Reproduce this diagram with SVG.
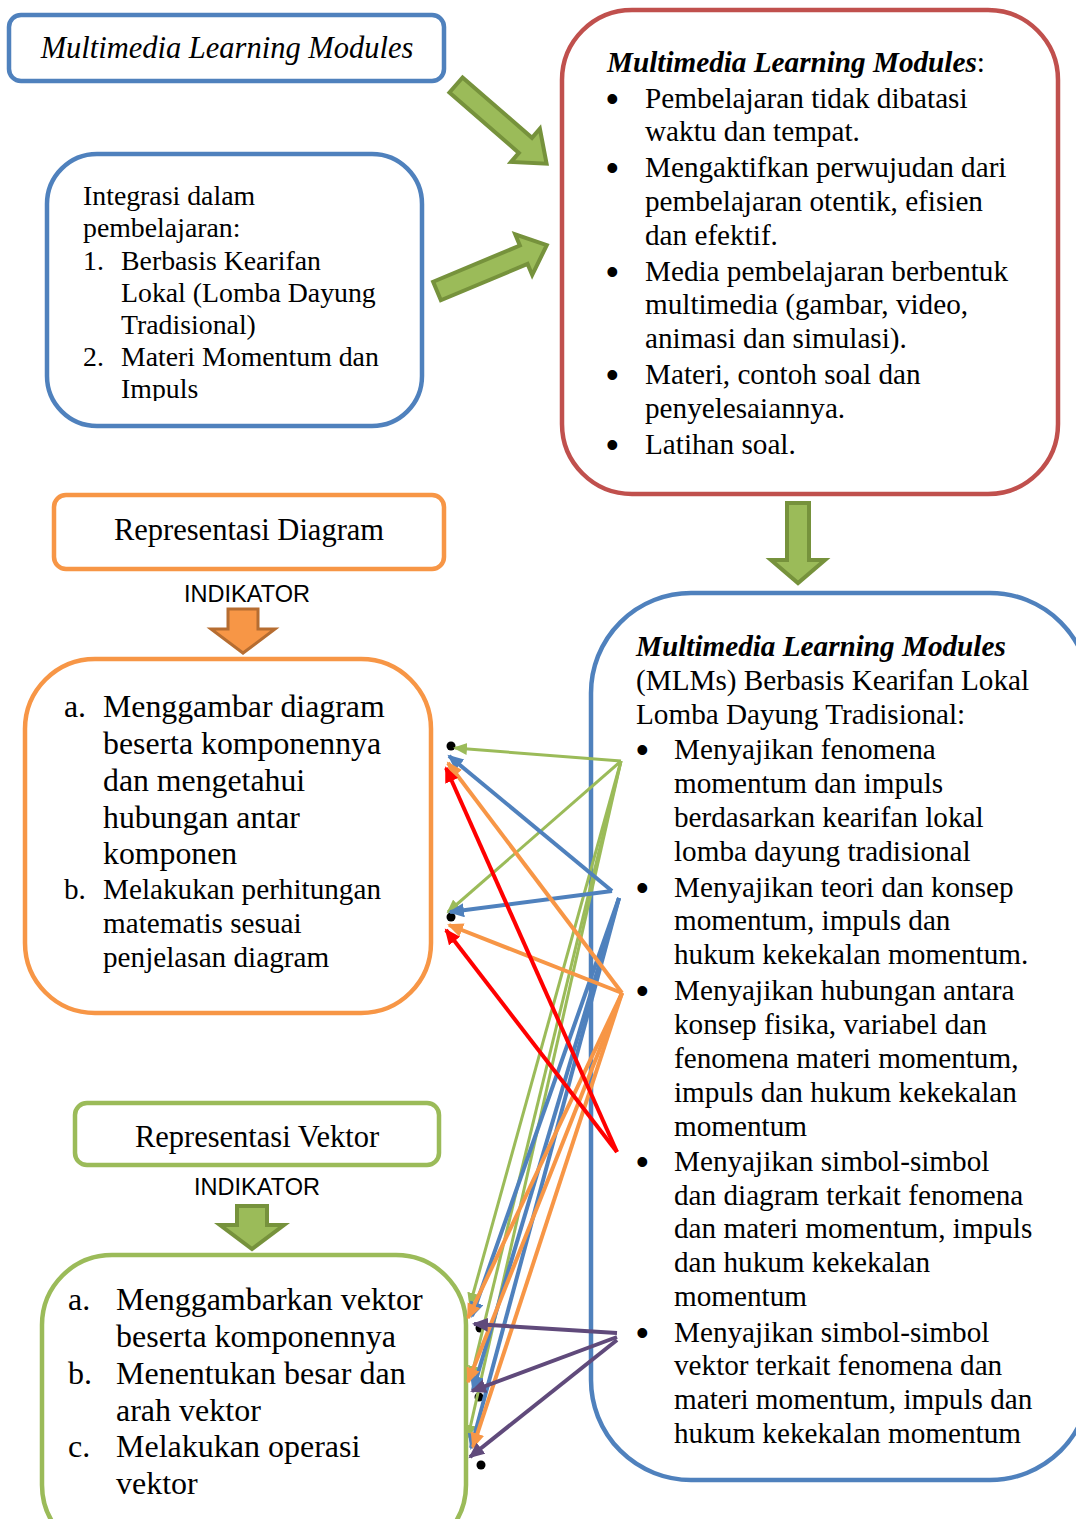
<svg xmlns="http://www.w3.org/2000/svg" width="1076" height="1519" viewBox="0 0 1076 1519">
<style>
.t{font-family:"Liberation Serif","Times New Roman",serif;fill:#000}
.s{font-family:"Liberation Sans",Arial,sans-serif;fill:#000}
.bu{font-family:"Liberation Sans",Arial,sans-serif;font-size:36px}
.box{fill:#fff;stroke-width:4.5}
.bl{stroke:#4F81BD}.rd{stroke:#C0504D}.or{stroke:#F79646}.gr{stroke:#9BBB59}
.barrowG{fill:#9BBB59;stroke:#76923C;stroke-width:4;stroke-linejoin:miter}
.barrowO{fill:#F79646;stroke:#B66D31;stroke-width:3}
.c{fill:none}
.cg{stroke:#9BBB59;stroke-width:3}
.cb{stroke:#4F81BD;stroke-width:4}
.co{stroke:#F79646;stroke-width:4}
.cr{stroke:#FF0000;stroke-width:4}
.cp{stroke:#604A7B;stroke-width:4}
</style>
<defs>
<marker id="mg" markerUnits="userSpaceOnUse" markerWidth="16" markerHeight="14" refX="12" refY="6" orient="auto"><path d="M0,0 L14,6 L0,12 z" fill="#9BBB59"/></marker>
<marker id="mb" markerUnits="userSpaceOnUse" markerWidth="18" markerHeight="16" refX="14" refY="7" orient="auto"><path d="M0,0 L16,7 L0,14 z" fill="#4F81BD"/></marker>
<marker id="mo" markerUnits="userSpaceOnUse" markerWidth="18" markerHeight="16" refX="14" refY="7" orient="auto"><path d="M0,0 L16,7 L0,14 z" fill="#F79646"/></marker>
<marker id="mr" markerUnits="userSpaceOnUse" markerWidth="18" markerHeight="16" refX="14" refY="7" orient="auto"><path d="M0,0 L16,7 L0,14 z" fill="#FF0000"/></marker>
<marker id="mp" markerUnits="userSpaceOnUse" markerWidth="18" markerHeight="16" refX="14" refY="7" orient="auto"><path d="M0,0 L16,7 L0,14 z" fill="#604A7B"/></marker>
<clipPath id="clipInt"><rect x="47" y="154" width="375" height="247"/></clipPath>
</defs>
<rect width="1076" height="1519" fill="#fff"/>

<g id="mlm-title">
<rect class="box bl" x="9" y="15" width="435" height="66" rx="12"/>
<text class="t" x="227" y="58" font-size="30.5" font-style="italic" text-anchor="middle">Multimedia Learning Modules</text>
</g>

<g id="integrasi">
<rect class="box bl" x="47" y="154" width="375" height="272" rx="50"/>
<g class="t" font-size="27.8" clip-path="url(#clipInt)">
<text x="83" y="205">Integrasi dalam</text>
<text x="83" y="237">pembelajaran:</text>
<text x="83" y="270">1.</text><text x="121" y="270">Berbasis Kearifan</text>
<text x="121" y="302">Lokal (Lomba Dayung</text>
<text x="121" y="334">Tradisional)</text>
<text x="83" y="366">2.</text><text x="121" y="366">Materi Momentum dan</text>
<text x="121" y="398">Impuls</text>
</g>
</g>

<g id="mlm-features">
<rect class="box rd" x="562" y="10" width="496" height="484" rx="70"/>
<g class="t" font-size="29.2">
<text x="607" y="72"><tspan font-weight="bold" font-style="italic">Multimedia Learning Modules</tspan>:</text>
<text class="bu" x="606" y="111">•</text><text x="645" y="108">Pembelajaran tidak dibatasi</text>
<text x="645" y="141">waktu dan tempat.</text>
<text class="bu" x="606" y="180">•</text><text x="645" y="177">Mengaktifkan perwujudan dari</text>
<text x="645" y="211">pembelajaran otentik, efisien</text>
<text x="645" y="245">dan efektif.</text>
<text class="bu" x="606" y="284">•</text><text x="645" y="281">Media pembelajaran berbentuk</text>
<text x="645" y="314">multimedia (gambar, video,</text>
<text x="645" y="348">animasi dan simulasi).</text>
<text class="bu" x="606" y="387">•</text><text x="645" y="384">Materi, contoh soal dan</text>
<text x="645" y="418">penyelesaiannya.</text>
<text class="bu" x="606" y="457">•</text><text x="645" y="454">Latihan soal.</text>
</g>
</g>

<g id="rep-diagram">
<rect class="box or" x="54" y="495" width="390" height="74" rx="12"/>
<text class="t" x="249" y="540" font-size="30.5" text-anchor="middle">Representasi Diagram</text>
</g>

<g id="indikator-diagram">
<text class="s" x="247" y="602" font-size="23.5" text-anchor="middle">INDIKATOR</text>
<polygon class="barrowO" points="228,609 258,609 258,629 275,629 243,653 211,629 228,629"/>
</g>

<g id="diagram-indicators">
<rect class="box or" x="25" y="659" width="406" height="354" rx="70"/>
<g class="t" font-size="31.8">
<text x="64" y="717">a.</text><text x="103" y="717">Menggambar diagram</text>
<text x="103" y="754">beserta komponennya</text>
<text x="103" y="791">dan mengetahui</text>
<text x="103" y="828">hubungan antar</text>
<text x="103" y="864">komponen</text>
</g>
<g class="t" font-size="29.2">
<text x="64" y="899">b.</text><text x="103" y="899">Melakukan perhitungan</text>
<text x="103" y="933">matematis sesuai</text>
<text x="103" y="967">penjelasan diagram</text>
</g>
</g>

<g id="rep-vektor">
<rect class="box gr" x="75" y="1103" width="364" height="62" rx="12"/>
<text class="t" x="257" y="1147" font-size="30.5" text-anchor="middle">Representasi Vektor</text>
</g>

<g id="indikator-vektor">
<text class="s" x="257" y="1195" font-size="23.5" text-anchor="middle">INDIKATOR</text>
<polygon class="barrowG" points="237,1206 267,1206 267,1225 284,1225 252,1249 220,1225 237,1225" stroke-width="3"/>
</g>

<g id="vektor-indicators">
<rect class="box gr" x="42" y="1255" width="424" height="300" rx="70"/>
<g class="t" font-size="32">
<text x="68" y="1310">a.</text><text x="116" y="1310">Menggambarkan vektor</text>
<text x="116" y="1347">beserta komponennya</text>
<text x="68" y="1384">b.</text><text x="116" y="1384">Menentukan besar dan</text>
<text x="116" y="1421">arah vektor</text>
<text x="68" y="1457">c.</text><text x="116" y="1457">Melakukan operasi</text>
<text x="116" y="1494">vektor</text>
</g>
</g>

<g id="mlm-lokal">
<rect class="box bl" x="591" y="593" width="499" height="887" rx="100"/>
<g class="t" font-size="29.2">
<text x="636" y="656" font-weight="bold" font-style="italic">Multimedia Learning Modules</text>
<text x="636" y="690">(MLMs) Berbasis Kearifan Lokal</text>
<text x="636" y="724">Lomba Dayung Tradisional:</text>
<text class="bu" x="636" y="762">•</text><text x="674" y="759">Menyajikan fenomena</text>
<text x="674" y="793">momentum dan impuls</text>
<text x="674" y="827">berdasarkan kearifan lokal</text>
<text x="674" y="861">lomba dayung tradisional</text>
<text class="bu" x="636" y="900">•</text><text x="674" y="897">Menyajikan teori dan konsep</text>
<text x="674" y="930">momentum, impuls dan</text>
<text x="674" y="964">hukum kekekalan momentum.</text>
<text class="bu" x="636" y="1003">•</text><text x="674" y="1000">Menyajikan hubungan antara</text>
<text x="674" y="1034">konsep fisika, variabel dan</text>
<text x="674" y="1068">fenomena materi momentum,</text>
<text x="674" y="1102">impuls dan hukum kekekalan</text>
<text x="674" y="1136">momentum</text>
<text class="bu" x="636" y="1174">•</text><text x="674" y="1171">Menyajikan simbol-simbol</text>
<text x="674" y="1205">dan diagram terkait fenomena</text>
<text x="674" y="1238">dan materi momentum, impuls</text>
<text x="674" y="1272">dan hukum kekekalan</text>
<text x="674" y="1306">momentum</text>
<text class="bu" x="636" y="1345">•</text><text x="674" y="1342">Menyajikan simbol-simbol</text>
<text x="674" y="1375">vektor terkait fenomena dan</text>
<text x="674" y="1409">materi momentum, impuls dan</text>
<text x="674" y="1443">hukum kekekalan momentum</text>
</g>
</g>

<g id="block-arrows">
<polygon class="barrowG" transform="translate(456,85) rotate(41)" points="0,-10 92,-10 92,-22 120,0 92,22 92,10 0,10" stroke-width="4"/>
<polygon class="barrowG" transform="translate(437,291) rotate(-22.7)" points="0,-10 94,-10 94,-22 119,0 94,22 94,10 0,10" stroke-width="4"/>
<polygon class="barrowG" points="787,503 809,503 809,560 825,560 798,583 771,560 787,560" stroke-width="4"/>
</g>

<g id="dots">
<circle cx="451" cy="746" r="4.5"/>
<circle cx="451" cy="917" r="4.5"/>
<circle cx="480" cy="1328" r="4.5"/>
<circle cx="479" cy="1397" r="4.5"/>
<circle cx="481" cy="1465" r="4.5"/>
</g>

<g id="connectors" class="c">
<line class="cg" x1="621" y1="761" x2="455" y2="748" marker-end="url(#mg)"/>
<line class="cg" x1="621" y1="761" x2="448" y2="912" marker-end="url(#mg)"/>
<line class="cg" x1="621" y1="761" x2="470" y2="1305" marker-end="url(#mg)"/>
<line class="cg" x1="621" y1="761" x2="471" y2="1378" marker-end="url(#mg)"/>
<line class="cg" x1="621" y1="761" x2="468" y2="1437" marker-end="url(#mg)"/>

<line class="cb" x1="612" y1="891" x2="449" y2="756" marker-end="url(#mb)"/>
<line class="cb" x1="612" y1="891" x2="450" y2="912" marker-end="url(#mb)"/>
<line class="cb" x1="619" y1="898" x2="472" y2="1316" marker-end="url(#mb)"/>
<line class="cb" x1="619" y1="898" x2="473" y2="1390" marker-end="url(#mb)"/>
<line class="cb" x1="619" y1="898" x2="471" y2="1448" marker-end="url(#mb)"/>

<line class="co" x1="622" y1="993" x2="448" y2="763" marker-end="url(#mo)"/>
<line class="co" x1="622" y1="993" x2="449" y2="925" marker-end="url(#mo)"/>
<line class="co" x1="622" y1="993" x2="468" y2="1318" marker-end="url(#mo)"/>
<line class="co" x1="622" y1="993" x2="468" y2="1382" marker-end="url(#mo)"/>
<line class="co" x1="622" y1="993" x2="473" y2="1447" marker-end="url(#mo)"/>

<line class="cr" x1="617" y1="1152" x2="446" y2="768" marker-end="url(#mr)"/>
<line class="cr" x1="617" y1="1152" x2="446" y2="930" marker-end="url(#mr)"/>

<line class="cp" x1="617" y1="1333" x2="474" y2="1324" marker-end="url(#mp)"/>
<line class="cp" x1="617" y1="1337" x2="472" y2="1391" marker-end="url(#mp)"/>
<line class="cp" x1="617" y1="1340" x2="470" y2="1457" marker-end="url(#mp)"/>
</g>
</svg>
